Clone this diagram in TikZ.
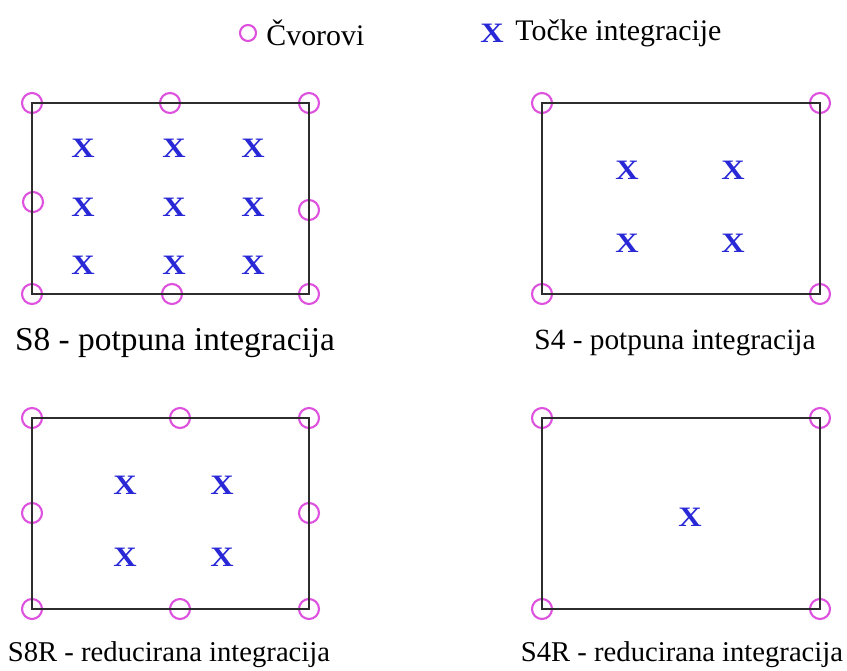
\documentclass[tikz,border=0pt]{standalone}
\usepackage{graphicx}
\usepackage{fontspec}
\setmainfont{Liberation Serif}
\usetikzlibrary{positioning}
\definecolor{cvorcol}{RGB}{222,80,222}
\definecolor{tockacol}{RGB}{40,40,215}
\definecolor{okvircol}{RGB}{45,45,45}
\newcommand{\tockaX}{\scalebox{1.15}[1]{X}}

\begin{document}
\begin{tikzpicture}[
        x=0.02cm, y=-0.02cm,
        cvor/.style = {draw=cvorcol, circle, line width=1.2pt,
                       minimum size=0.4cm, inner sep=0pt},
        tocka/.style = {text=tockacol, inner sep=0pt,
                        font=\bfseries\fontsize{16}{16}\selectfont},
        okvir/.style = {draw=okvircol, line width=1.3pt},
        naslov/.style = {inner sep=0pt, font=\fontsize{#1}{#1}\selectfont},
        legenda/.style = {inner sep=0pt, anchor=west,
                          font=\fontsize{17}{17}\selectfont},
        ]
        \useasboundingbox (0,0) rectangle (847,671);

        % legenda
        \node [cvor, minimum size=0.32cm] (lc) at (248,33) {};
        \node [legenda, right=1.8mm of lc] (lct) {Čvorovi};
        \node [tocka] (lx) at (492,33) {\tockaX};
        \node [legenda, right=2.2mm of lx] (lxt) {Točke integracije};

        % S8
        \node [cvor] (a1) at (32,103) {};
        \node [cvor] (a2) at (170,103) {};
        \node [cvor] (a3) at (309,103) {};
        \node [cvor] (a4) at (309,210) {};
        \node [cvor] (a5) at (309,294) {};
        \node [cvor] (a6) at (172,294) {};
        \node [cvor] (a7) at (32,294) {};
        \node [cvor] (a8) at (33,202) {};
        \draw [okvir] (a1.center) -- (a3.center) -- (a5.center)
            -- (a7.center) -- cycle;
        \foreach \x in {83,174,253}
            \foreach \y in {148,207,265}
                \node [tocka] at (\x,\y) {\tockaX};
        \node [naslov=19] (ta) at (175,343) {S8 - potpuna integracija};

        % S4
        \node [cvor] (b1) at (542,103) {};
        \node [cvor] (b2) at (820,103) {};
        \node [cvor] (b3) at (820,294) {};
        \node [cvor] (b4) at (542,294) {};
        \draw [okvir] (b1.center) -- (b2.center) -- (b3.center)
            -- (b4.center) -- cycle;
        \foreach \x in {627,733}
            \foreach \y in {170,243}
                \node [tocka] at (\x,\y) {\tockaX};
        \node [naslov=16.7] (tb) at (675,343) {S4 - potpuna integracija};

        % S8R
        \node [cvor] (c1) at (32,418) {};
        \node [cvor] (c2) at (180,418) {};
        \node [cvor] (c3) at (309,418) {};
        \node [cvor] (c4) at (309,513) {};
        \node [cvor] (c5) at (309,609) {};
        \node [cvor] (c6) at (180,609) {};
        \node [cvor] (c7) at (32,609) {};
        \node [cvor] (c8) at (32,513) {};
        \draw [okvir] (c1.center) -- (c3.center) -- (c5.center)
            -- (c7.center) -- cycle;
        \foreach \x in {125,222}
            \foreach \y in {485,557}
                \node [tocka] at (\x,\y) {\tockaX};
        \node [naslov=16.3] (tc) at (169,655) {S8R - reducirana integracija};

        % S4R
        \node [cvor] (d1) at (542,418) {};
        \node [cvor] (d2) at (820,418) {};
        \node [cvor] (d3) at (820,609) {};
        \node [cvor] (d4) at (542,609) {};
        \draw [okvir] (d1.center) -- (d2.center) -- (d3.center)
            -- (d4.center) -- cycle;
        \node [tocka] (dx) at (690,517) {\tockaX};
        \node [naslov=16.3] (td) at (682,655) {S4R - reducirana integracija};
\end{tikzpicture}
\end{document}
